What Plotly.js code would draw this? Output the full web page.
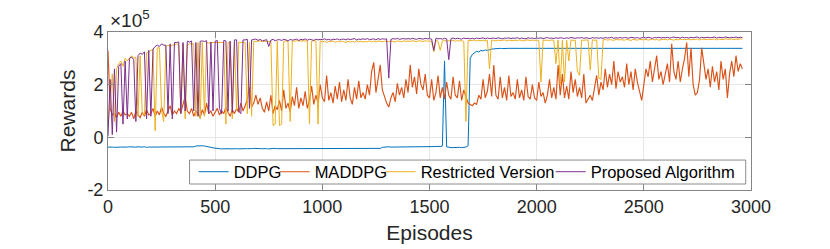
<!DOCTYPE html>
<html>
<head>
<meta charset="utf-8">
<script src="https://cdn.plot.ly/plotly-3.0.1.min.js"></script>
<style>html,body{margin:0;padding:0;background:#fff;}#chart{width:830px;height:249px;}</style>
</head>
<body>
<div id="chart"></div>
<script>
// Episodes are sampled every 10 episodes (0 ... 2960); rewards in units of 1e5
const episodeStep = 10;
const seriesNames = ["DDPG", "MADDPG", "Restricted Version", "Proposed Algorithm"];
const xTickValues = [0, 500, 1000, 1500, 2000, 2500, 3000];
const yTickValues = [-2, 0, 2, 4];
const yTickLabels = ["-2", "0", "2", "4"];

const ddpg = [
 -0.37,-0.36,-0.37,-0.38,-0.37,-0.36,-0.37,-0.37,-0.38,-0.37,
 -0.36,-0.37,-0.38,-0.37,-0.36,-0.37,-0.37,-0.36,-0.38,-0.37,
 -0.37,-0.36,-0.37,-0.38,-0.37,-0.37,-0.36,-0.37,-0.38,-0.37,
 -0.36,-0.37,-0.37,-0.38,-0.37,-0.36,-0.37,-0.37,-0.36,-0.37,
 -0.36,-0.33,-0.32,-0.33,-0.32,-0.33,-0.34,-0.36,-0.38,-0.40,
 -0.42,-0.43,-0.43,-0.44,-0.43,-0.42,-0.43,-0.44,-0.43,-0.43,
 -0.43,-0.44,-0.43,-0.42,-0.43,-0.43,-0.44,-0.43,-0.42,-0.43,
 -0.44,-0.43,-0.43,-0.42,-0.43,-0.44,-0.43,-0.43,-0.42,-0.43,
 -0.43,-0.42,-0.43,-0.44,-0.43,-0.43,-0.42,-0.43,-0.44,-0.43,
 -0.43,-0.44,-0.43,-0.42,-0.43,-0.43,-0.44,-0.43,-0.43,-0.42,
 -0.43,-0.43,-0.42,-0.43,-0.44,-0.43,-0.43,-0.42,-0.43,-0.43,
 -0.44,-0.43,-0.42,-0.43,-0.43,-0.44,-0.43,-0.43,-0.42,-0.43,
 -0.43,-0.42,-0.43,-0.43,-0.44,-0.43,-0.43,-0.42,-0.38,-0.37,
 -0.37,-0.36,-0.37,-0.37,-0.36,-0.37,-0.36,-0.37,-0.36,-0.36,
 -0.36,-0.37,-0.36,-0.36,-0.35,-0.36,-0.36,-0.35,-0.36,-0.35,
 -0.35,-0.36,-0.35,-0.35,-0.34,-0.35,-0.33,2.9,-0.36,-0.38,
 -0.39,-0.39,-0.38,-0.39,-0.38,-0.39,-0.38,-0.37,-0.32,3.0,
 3.15,3.2,3.27,3.24,3.3,3.28,3.32,3.3,3.34,3.35,
 3.36,3.37,3.36,3.38,3.37,3.38,3.38,3.38,3.38,3.38,
 3.38,3.38,3.38,3.38,3.38,3.38,3.38,3.38,3.38,3.38,
 3.38,3.38,3.38,3.38,3.38,3.38,3.38,3.38,3.38,3.38,
 3.38,3.38,3.38,3.38,3.38,3.38,3.38,3.38,3.38,3.38,
 3.38,3.38,3.38,3.38,3.38,3.38,3.38,3.38,3.38,3.38,
 3.38,3.38,3.38,3.38,3.38,3.38,3.38,3.38,3.38,3.38,
 3.38,3.38,3.38,3.38,3.38,3.38,3.38,3.38,3.38,3.38,
 3.38,3.38,3.38,3.38,3.38,3.38,3.38,3.38,3.38,3.38,
 3.38,3.38,3.38,3.38,3.38,3.38,3.38,3.38,3.38,3.38,
 3.38,3.38,3.38,3.38,3.38,3.38,3.38,3.38,3.38,3.38,
 3.38,3.38,3.38,3.38,3.38,3.38,3.38,3.38,3.38,3.38,
 3.38,3.38,3.38,3.38,3.38,3.38,3.38
];

const maddpg = [
 3.3,1.1,0.85,0.9,0.75,0.95,0.8,1.0,0.85,0.9,
 0.8,0.95,0.7,1.0,0.85,0.75,0.95,0.8,1.05,0.85,
 0.9,1.1,0.8,1.0,0.85,1.15,0.9,0.8,1.0,1.2,
 0.85,1.0,0.9,1.1,0.95,1.25,1.55,1.0,0.9,1.1,
 0.8,1.0,0.9,0.75,1.05,0.85,1.3,0.9,1.0,0.8,
 0.95,1.1,0.85,1.0,0.9,1.15,0.95,0.8,1.05,0.9,
 1.1,0.95,1.3,1.0,1.2,1.45,1.9,1.15,1.3,1.6,
 1.25,1.5,1.1,0.95,1.35,1.0,1.6,0.9,1.2,1.05,
 1.4,1.0,1.8,1.1,1.3,0.95,1.55,1.2,1.9,1.1,
 1.5,1.2,1.75,1.1,1.4,1.95,1.25,1.6,1.3,2.0,
 1.5,1.35,2.35,1.4,1.7,1.3,1.95,1.45,2.1,1.35,
 1.8,1.4,2.2,1.5,1.25,1.9,1.45,2.15,1.5,1.7,
 1.45,2.0,1.6,2.5,2.85,1.7,2.2,2.75,1.8,1.5,
 1.3,1.15,1.5,1.7,1.35,2.05,1.6,1.9,1.5,2.2,
 1.7,2.75,1.9,2.3,1.65,2.6,2.0,1.8,2.4,1.6,
 1.5,2.2,1.4,1.7,2.35,1.5,1.9,1.45,2.1,1.6,
 1.45,2.3,1.6,1.5,2.15,1.4,1.8,1.55,1.3,1.25,
 1.2,1.3,1.25,1.6,1.45,2.2,1.5,1.75,2.4,1.55,
 2.75,1.6,1.45,2.3,1.5,1.9,1.4,2.35,1.55,1.7,
 1.45,2.2,1.5,1.8,1.4,2.3,1.55,1.45,2.0,1.5,
 1.4,2.1,1.55,1.7,1.3,1.6,2.2,1.5,1.9,1.45,
 2.75,1.6,2.4,1.5,1.95,1.45,2.5,1.7,2.2,1.55,
 1.9,1.5,2.4,1.3,1.45,1.6,1.4,1.9,2.35,1.6,
 2.1,1.8,2.6,1.9,2.4,2.0,2.9,1.85,2.5,2.1,
 2.3,1.9,2.8,2.0,2.5,1.8,2.6,2.1,1.7,1.4,
 2.0,2.6,2.3,2.9,2.1,2.7,3.1,2.2,2.5,2.0,
 2.4,2.8,2.1,3.55,2.5,2.2,2.9,2.1,2.6,3.0,
 3.6,2.3,3.4,2.0,1.6,1.7,2.2,3.4,2.8,2.2,
 2.6,1.9,2.7,2.1,2.5,1.8,2.9,2.2,2.6,1.5,
 2.4,2.9,2.3,3.1,2.5,2.8,2.6
];

const restrictedVersion = [
 0.4,1.5,2.4,0.6,2.6,2.8,2.9,2.7,3.0,2.9,
 3.0,3.1,3.0,3.05,0.8,3.1,0.9,0.85,3.2,3.25,
 3.3,3.35,0.25,3.4,3.4,1.0,0.6,3.45,3.5,3.45,
 3.5,3.5,3.55,3.5,0.9,3.55,0.7,3.5,3.55,3.55,
 3.55,0.8,3.6,0.7,3.6,0.8,3.6,3.58,3.6,3.6,
 3.6,3.6,3.62,3.6,3.6,0.5,3.6,3.6,0.7,3.62,
 1.0,3.62,3.6,3.62,3.6,0.9,3.6,0.8,3.65,3.64,
 3.65,3.66,3.64,3.65,3.65,3.63,3.66,0.45,0.5,3.65,
 0.45,0.5,3.65,3.66,3.64,0.6,3.66,3.65,3.67,3.66,
 3.66,3.67,3.65,3.66,0.5,3.66,3.67,3.66,0.5,3.67,
 3.62,3.65,3.6,3.64,3.63,3.66,3.61,3.64,3.62,3.65,
 3.63,3.6,3.65,3.62,3.64,3.61,3.66,3.63,3.65,3.62,
 3.64,3.62,3.66,3.63,3.65,3.62,3.66,3.64,3.63,3.65,
 3.65,3.63,3.66,3.64,3.62,3.66,3.65,3.63,3.67,3.64,
 3.66,3.64,3.67,3.65,3.63,3.67,3.66,3.64,3.67,3.65,
 3.66,3.64,3.25,3.67,3.65,3.3,3.66,3.68,3.65,3.67,
 3.66,3.68,3.65,3.67,3.66,3.68,3.64,0.6,3.67,3.68,
 3.67,3.69,3.66,3.68,3.67,3.69,3.66,3.68,2.6,3.69,
 3.68,3.66,3.69,3.67,3.68,3.7,3.66,3.69,3.68,3.67,
 3.69,3.67,3.7,3.68,3.66,3.69,3.7,3.67,3.69,3.68,
 3.69,3.67,2.1,3.7,3.68,3.69,3.67,3.7,3.68,2.8,
 3.7,2.0,3.69,2.1,3.69,2.9,3.7,3.68,3.69,2.5,
 2.35,3.7,3.68,3.7,3.69,2.55,3.71,3.68,3.7,2.25,
 2.2,3.7,3.72,3.69,3.71,3.7,3.68,3.72,3.7,3.71,
 3.71,3.69,3.72,3.7,3.68,3.72,3.71,3.69,3.72,3.7,
 3.7,3.72,3.69,3.71,3.73,3.7,3.72,3.69,3.71,3.72,
 3.72,3.7,3.73,3.71,3.69,3.72,3.7,3.73,3.71,3.72,
 3.71,3.73,3.7,3.72,3.71,3.74,3.7,3.72,3.73,3.71,
 3.73,3.71,3.72,3.74,3.7,3.73,3.72,3.71,3.74,3.72,
 3.72,3.74,3.71,3.73,3.72,3.74,3.73
];

const proposedAlgorithm = [
 0.05,2.2,0.1,2.6,0.2,2.7,2.8,0.5,2.9,0.7,
 3.0,3.05,2.95,0.6,3.1,3.2,3.15,3.25,0.7,3.3,
 0.8,3.35,3.45,3.5,3.45,3.55,3.5,3.5,0.9,3.55,
 0.7,3.6,3.6,3.62,0.9,3.6,1.0,3.65,3.62,3.66,
 1.0,3.6,0.8,3.65,3.66,3.64,3.67,0.9,3.62,1.0,
 3.65,3.68,1.1,0.9,3.68,3.66,1.0,3.65,0.95,3.7,
 3.7,1.0,0.9,3.7,3.7,3.72,1.1,3.7,3.72,3.73,
 3.68,3.72,3.66,3.7,3.71,3.45,3.69,3.72,3.67,3.7,
 3.71,3.68,3.72,3.7,3.66,3.72,3.69,3.71,3.73,3.68,
 3.72,3.7,3.74,3.69,3.72,3.71,3.68,3.73,3.7,3.72,
 3.71,3.74,3.7,3.72,3.69,3.73,3.71,3.74,3.7,3.72,
 3.73,3.7,3.74,3.71,3.72,3.75,3.7,3.73,3.72,3.74,
 3.72,3.75,3.71,3.73,3.74,3.7,3.75,3.72,3.74,3.73,
 3.74,2.25,3.72,3.75,3.73,3.76,3.72,3.74,3.75,3.73,
 3.75,3.73,3.76,3.74,3.72,3.76,3.75,3.73,3.76,3.74,
 3.75,3.73,3.3,3.76,3.74,3.75,3.73,3.76,3.74,2.95,
 3.75,3.77,3.74,3.76,3.75,3.73,3.77,3.75,3.76,3.74,
 3.76,3.74,3.77,3.75,3.76,3.78,3.74,3.77,3.75,3.76,
 3.77,3.75,3.78,3.76,3.74,3.77,3.76,3.78,3.75,3.77,
 3.76,3.78,3.75,3.77,3.76,3.74,3.78,3.76,3.77,3.75,
 3.77,3.76,3.78,3.75,3.77,3.79,3.76,3.77,3.75,3.78,
 3.76,3.78,3.77,3.75,3.78,3.76,3.79,3.77,3.76,3.78,
 3.77,3.79,3.76,3.78,3.77,3.75,3.79,3.77,3.78,3.76,
 3.78,3.76,3.79,3.77,3.78,3.8,3.76,3.78,3.77,3.79,
 3.77,3.79,3.78,3.76,3.8,3.78,3.77,3.79,3.76,3.78,
 3.79,3.77,3.8,3.78,3.76,3.79,3.78,3.8,3.77,3.79,
 3.78,3.8,3.77,3.79,3.81,3.78,3.79,3.77,3.8,3.78,
 3.79,3.77,3.8,3.78,3.79,3.81,3.77,3.8,3.78,3.79,
 3.8,3.78,3.79,3.81,3.77,3.8,3.79,3.78,3.81,3.79,
 3.78,3.8,3.79,3.81,3.78,3.8,3.79
];

const seriesColors = ["#0072BD", "#D95319", "#EDB120", "#7E2F8E"];
const seriesLineWidths = [1, 1.15, 1, 1];
// legend entry widths (px) so that each entry follows the previous text closely
const legendEntryWidths = [36, 61, 125, 146];
const seriesValues = [ddpg, maddpg, restrictedVersion, proposedAlgorithm];

const episodes = ddpg.map((_, i) => i * episodeStep);

const traces = seriesValues.map((vals, k) => ({
  type: "scatter",
  mode: "lines",
  x: episodes,
  y: vals,
  name: seriesNames[k],
  legendwidth: legendEntryWidths[k],
  line: {color: seriesColors[k], width: seriesLineWidths[k]}
}));

const axisCommon = {
  ticks: "inside",
  ticklen: 6,
  tickcolor: "#858585",
  showline: true,
  linecolor: "#858585",
  linewidth: 1,
  mirror: "ticks",
  showgrid: true,
  gridcolor: "#e6e6e6",
  gridwidth: 1,
  zeroline: false,
  tickfont: {size: 18, color: "#262626"}
};

const layout = {
  width: 830,
  height: 249,
  margin: {l: 108, r: 79, t: 32, b: 59},
  paper_bgcolor: "#ffffff",
  plot_bgcolor: "#ffffff",
  font: {family: "Liberation Sans, Arial, Helvetica, sans-serif", color: "#262626", size: 18},
  showlegend: true,
  xaxis: Object.assign({}, axisCommon, {
    range: [0, 3000],
    tickvals: xTickValues,
    title: {text: "Episodes", font: {size: 21, color: "#262626"}, standoff: 9}
  }),
  yaxis: Object.assign({}, axisCommon, {
    range: [-2, 4],
    tickvals: yTickValues,
    ticktext: yTickLabels,
    title: {text: "Rewards", font: {size: 21, color: "#262626"}, standoff: 6}
  }),
  // legend frame drawn as a compact box behind the legend entries
  shapes: [{
    type: "rect", xref: "paper", yref: "paper",
    x0: 0.1268, x1: 0.9918, y0: 0.0379, y1: 0.1895,
    fillcolor: "#ffffff",
    line: {color: "#8c8c8c", width: 1},
    layer: "above"
  }],
  legend: {
    orientation: "h",
    x: 0.5593, xanchor: "center",
    y: 0.114, yanchor: "middle",
    bgcolor: "rgba(0,0,0,0)",
    borderwidth: 0,
    font: {size: 16.5, color: "#000000"},
    itemwidth: 30,
    traceorder: "normal"
  },
  annotations: [{
    text: "×10<sup>5</sup>",
    xref: "paper", yref: "paper",
    x: 0, y: 1, xanchor: "left", yanchor: "bottom",
    showarrow: false,
    font: {size: 19, color: "#262626"},
    xshift: 0, yshift: -1
  }]
};

Plotly.newPlot("chart", traces, layout, {displayModeBar: false, staticPlot: true});
</script>
</body>
</html>
